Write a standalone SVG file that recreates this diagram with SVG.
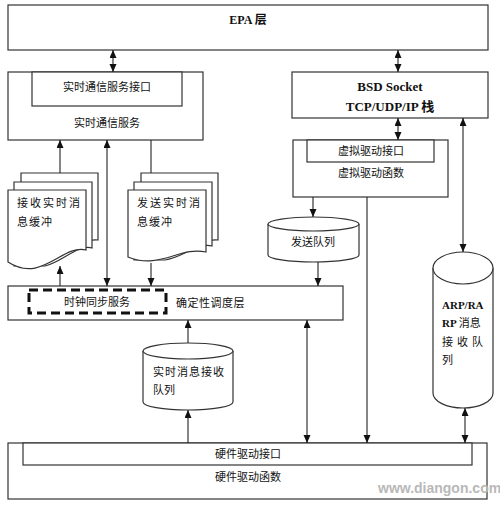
<svg xmlns="http://www.w3.org/2000/svg" width="500" height="507" viewBox="0 0 500 507">
<style>
.box{fill:#fff;stroke:#333;stroke-width:1.2}
.ln{fill:none;stroke:#222;stroke-width:1.1}
.t{font-family:"Liberation Serif","Noto Sans CJK SC",serif;font-size:11px;fill:#111}
.b{font-family:"Liberation Serif","Noto Sans CJK SC",serif;font-weight:bold;fill:#111}
.c{text-anchor:middle}
</style>
<defs>
<marker id="ah" markerUnits="userSpaceOnUse" markerWidth="8" markerHeight="8" refX="8" refY="3.5" orient="auto-start-reverse">
<path d="M0,0 L8,3.5 L0,7 z" fill="#111"/>
</marker>
</defs>
<rect width="500" height="507" fill="#fff"/>

<g id="epa">
<rect class="box" x="8" y="5" width="480" height="45"/>
<text class="b c" x="248" y="24" font-size="12">EPA 层</text>
</g>

<g id="rtcomm">
<rect class="box" x="8" y="72" width="195" height="68"/>
<rect class="box" x="32" y="72" width="150" height="34"/>
<text class="t c" x="107" y="91">实时通信服务接口</text>
<text class="t c" x="107" y="127">实时通信服务</text>
</g>

<g id="bsd">
<rect class="box" x="292" y="72" width="196" height="46"/>
<text class="b c" x="390" y="91" font-size="13">BSD Socket</text>
<text class="b c" x="390" y="111" font-size="13">TCP/UDP/IP 栈</text>
</g>

<g id="vdrv">
<rect class="box" x="293" y="140" width="155" height="57"/>
<rect class="box" x="307" y="140" width="127" height="22"/>
<text class="t c" x="371" y="155">虚拟驱动接口</text>
<text class="t c" x="371" y="177">虚拟驱动函数</text>
</g>

<g id="recvbuf">
<path class="box" d="M21,173 H98 V240 C85,238 70,250 55,256 L21,256 z"/>
<path class="box" d="M14,182 H92 V248 C78,244 62,262 45,266 L14,266 z"/>
<path class="box" d="M8,190 H86 V250 C62,244 42,284 8,262 z"/>
<text class="t" x="17" y="207" letter-spacing="2">接收实时消</text>
<text class="t" x="17" y="226" letter-spacing="1">息缓冲</text>
</g>

<g id="sendbuf">
<path class="box" d="M141,173 H218 V240 C205,238 190,250 175,254 L141,254 z"/>
<path class="box" d="M134,182 H212 V246 C198,242 182,258 165,260 L134,260 z"/>
<path class="box" d="M128,190 H206 V252 C180,246 160,270 128,257 z"/>
<text class="t" x="137" y="207" letter-spacing="2">发送实时消</text>
<text class="t" x="137" y="226" letter-spacing="1">息缓冲</text>
</g>

<g id="sendq">
<path class="box" d="M268,224 V255 A45.5,7 0 0 0 359,255 V224"/>
<ellipse class="box" cx="313.5" cy="224" rx="45.5" ry="7"/>
<text class="t c" x="313" y="246">发送队列</text>
</g>

<g id="sched">
<rect class="box" x="8" y="286" width="335" height="34"/>
<rect x="29" y="290" width="137" height="23" fill="none" stroke="#111" stroke-width="3" stroke-dasharray="9,5"/>
<text class="t c" x="97" y="306" font-size="10.5">时钟同步服务</text>
<text class="t" x="176" y="307" font-size="12.5" letter-spacing="0.5">确定性调度层</text>
</g>

<g id="rtrecvq">
<path class="box" d="M143,351 V402 A45,8 0 0 0 233,402 V351"/>
<ellipse class="box" cx="188" cy="351" rx="45" ry="8"/>
<text class="t" x="153" y="376" letter-spacing="1">实时消息接收</text>
<text class="t" x="153" y="394">队列</text>
</g>

<g id="arpq">
<path class="box" d="M433,268 V393 A30,15 0 0 0 493,393 V268"/>
<ellipse class="box" cx="463" cy="268" rx="30" ry="16"/>
<text class="b" x="442" y="309" font-size="11">ARP/RA</text>
<text class="b" x="442" y="327" font-size="11">RP <tspan font-weight="normal">消息</tspan></text>
<text class="t" x="442" y="346" letter-spacing="4">接收队</text>
<text class="t" x="442" y="364">列</text>
</g>

<g id="hwdrv">
<rect class="box" x="8" y="443" width="479" height="56"/>
<rect class="box" x="23" y="443" width="449" height="22"/>
<text class="t c" x="248" y="458">硬件驱动接口</text>
<text class="t c" x="248" y="481">硬件驱动函数</text>
</g>

<g id="connectors">
<line class="ln" x1="113" y1="50" x2="113" y2="72" marker-start="url(#ah)" marker-end="url(#ah)"/>
<line class="ln" x1="398" y1="50" x2="398" y2="72" marker-start="url(#ah)" marker-end="url(#ah)"/>
<line class="ln" x1="398" y1="118" x2="398" y2="140" marker-start="url(#ah)" marker-end="url(#ah)"/>
<line class="ln" x1="463" y1="118" x2="463" y2="252" marker-start="url(#ah)" marker-end="url(#ah)"/>
<line class="ln" x1="60" y1="173" x2="60" y2="140" marker-end="url(#ah)"/>
<line class="ln" x1="107" y1="140" x2="107" y2="286" marker-start="url(#ah)" marker-end="url(#ah)"/>
<line class="ln" x1="151" y1="140" x2="151" y2="173"/>
<line class="ln" x1="60" y1="286" x2="60" y2="266" marker-end="url(#ah)"/>
<line class="ln" x1="151" y1="263" x2="151" y2="286" marker-end="url(#ah)"/>
<line class="ln" x1="313" y1="197" x2="313" y2="217" marker-end="url(#ah)"/>
<line class="ln" x1="318" y1="262" x2="318" y2="286" marker-end="url(#ah)"/>
<line class="ln" x1="367" y1="197" x2="367" y2="443" marker-end="url(#ah)"/>
<line class="ln" x1="307" y1="320" x2="307" y2="443" marker-start="url(#ah)" marker-end="url(#ah)"/>
<line class="ln" x1="188" y1="343" x2="188" y2="320" marker-end="url(#ah)"/>
<line class="ln" x1="188" y1="443" x2="188" y2="410" marker-end="url(#ah)"/>
<line class="ln" x1="465" y1="408" x2="465" y2="443" marker-start="url(#ah)" marker-end="url(#ah)"/>
</g>

<text x="378" y="493" font-family="Liberation Sans,sans-serif" font-weight="bold" font-size="14" fill="#b8b8b8">www.diangon.com</text>
</svg>
